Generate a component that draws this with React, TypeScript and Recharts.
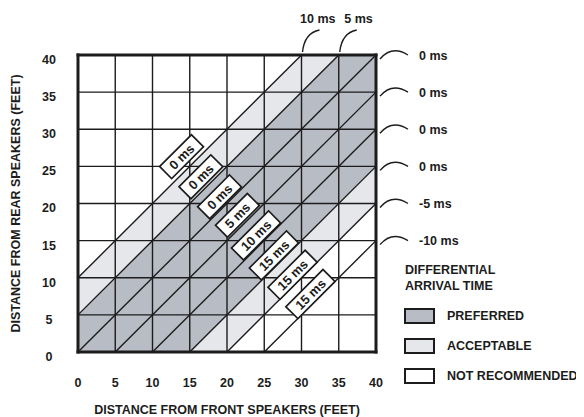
import {
  ComposedChart,
  Area,
  Scatter,
  XAxis,
  YAxis,
  ReferenceLine,
} from "recharts";

// axis grid, feet
const axisTicks = [0, 5, 10, 15, 20, 25, 30, 35, 40];

// shaded bands, sampled at the x where their edges bend
const bandX = [0, 15, 20, 30, 35, 40];
const preferredLow = [0, 0, 5, 15, 20, 25];
const preferredHigh = [5, 20, 25, 35, 40, 40];
const acceptableTopLow = [5, 20, 25, 35, 40, 40];
const acceptableTopHigh = [10, 25, 30, 40, 40, 40];
const acceptableBottomLow = [0, 0, 0, 10, 15, 20];
const acceptableBottomHigh = [0, 0, 5, 15, 20, 25];

// diagonals y = x + offset
const diagonalOffsets = [10, 5, 0, -5, -10, -15, -20, -25];

// boxed labels between the diagonals
const boxLabels = ["0 ms", "0 ms", "0 ms", "5 ms", "10 ms", "15 ms", "15 ms", "15 ms"];
const boxX = [13.9, 16.5, 19.0, 21.4, 23.9, 26.3, 28.8, 31.2];
const boxY = [26.3, 23.6, 20.9, 18.4, 15.7, 13.0, 10.4, 7.8];

// callouts at the right and top ends of the diagonals
const rightY = [40, 35, 30, 25, 20, 15];
const rightLabels = ["0 ms", "0 ms", "0 ms", "0 ms", "-5 ms", "-10 ms"];
const topX = [30, 35];
const topLabels = ["10 ms", "5 ms"];

const legendLabels = ["PREFERRED", "ACCEPTABLE", "NOT RECOMMENDED"];

const DARK = "#b8bcc4";
const LIGHT = "#e6e7ea";
const INK = "#1c1c1c";
const FONT = "Arial, 'Liberation Sans', Helvetica, sans-serif";

const bandRows = bandX.map((x, i) => ({
  x,
  preferred: [preferredLow[i], preferredHigh[i]],
  acceptableTop: [acceptableTopLow[i], acceptableTopHigh[i]],
  acceptableBottom: [acceptableBottomLow[i], acceptableBottomHigh[i]],
}));

const diagonals = diagonalOffsets.map((c) =>
  c >= 0
    ? [{ x: 0, y: c }, { x: 40 - c, y: 40 }]
    : [{ x: -c, y: 0 }, { x: 40, y: 40 + c }]
);

const boxData = boxLabels.map((text, i) => ({ x: boxX[i], y: boxY[i], text }));
const rightData = rightLabels.map((text, i) => ({ x: 40, y: rightY[i], text }));
const topData = topLabels.map((text, i) => ({ x: topX[i], y: 40, text }));

const textStyle = { fontFamily: FONT, fontWeight: 700, fontSize: 12.5, fill: INK };

function XTick({ x, y, payload }: any) {
  return (
    <text x={x} y={y} dy="0.71em" textAnchor="middle" style={textStyle}>
      {payload.value}
    </text>
  );
}

function YTick({ x, y, payload }: any) {
  return (
    <text x={x} y={y} dy="0.71em" textAnchor="middle" style={textStyle}>
      {payload.value}
    </text>
  );
}

function BoxLabel({ cx, cy, payload }: any) {
  const w = payload.text.length * 7.5 + 15;
  return (
    <g transform={`translate(${cx},${cy}) rotate(-45)`}>
      <rect x={-w / 2} y={-8.5} width={w} height={17} fill="#fff" stroke={INK} strokeWidth={1.7} />
      <text x={0} y={0} dy="0.36em" textAnchor="middle" style={{ ...textStyle, fontSize: 13 }}>
        {payload.text}
      </text>
    </g>
  );
}

function RightNote({ cx, cy, payload }: any) {
  return (
    <g>
      <path d={`M${cx + 4},${cy + 4} Q${cx + 16},${cy - 10} ${cx + 32},${cy}`} fill="none" stroke={INK} strokeWidth={1.4} />
      <text x={cx + 43} y={cy} dy="0.36em" style={textStyle}>
        {payload.text}
      </text>
    </g>
  );
}

function TopNote({ cx, cy, payload }: any) {
  return (
    <g>
      <path d={`M${cx + 1},${cy - 3} Q${cx + 3},${cy - 22} ${cx + 18},${cy - 25}`} fill="none" stroke={INK} strokeWidth={1.4} />
      <text x={cx + 34} y={cy - 37} dy="0.36em" textAnchor="end" style={textStyle}>
        {payload.text}
      </text>
    </g>
  );
}

const swatchFill = [DARK, LIGHT, "#fff"];

export default function App() {
  return (
    <div style={{ position: "relative", width: 576, height: 409 }}>
      <ComposedChart
        width={576}
        height={409}
        data={bandRows}
        margin={{ top: 47, right: 208, bottom: 35, left: 30 }}
      >
        <XAxis
          type="number"
          dataKey="x"
          domain={[0, 40]}
          ticks={axisTicks}
          interval={0}
          axisLine={false}
          tickLine={false}
          tickSize={0}
          tickMargin={26}
          height={30}
          tick={<XTick />}
          label={{
            content: ({ viewBox }: any) => (
              <text x={viewBox.x + viewBox.width / 2} y={401} dy="0.36em" textAnchor="middle" style={textStyle}>
                DISTANCE FROM FRONT SPEAKERS (FEET)
              </text>
            ),
          }}
        />
        <YAxis
          type="number"
          domain={[0, 40]}
          ticks={axisTicks}
          interval={0}
          axisLine={false}
          tickLine={false}
          tickSize={0}
          tickMargin={29}
          width={40}
          tick={<YTick />}
          label={{
            content: ({ viewBox }: any) => {
              const cy = viewBox.y + viewBox.height / 2;
              return (
                <text x={7} y={cy} dy="0.36em" textAnchor="middle" transform={`rotate(-90, 7, ${cy})`} style={textStyle}>
                  DISTANCE FROM REAR SPEAKERS (FEET)
                </text>
              );
            },
          }}
        />
        <Area type="linear" dataKey="acceptableTop" stroke="none" fill={LIGHT} fillOpacity={1} isAnimationActive={false} />
        <Area type="linear" dataKey="acceptableBottom" stroke="none" fill={LIGHT} fillOpacity={1} isAnimationActive={false} />
        <Area type="linear" dataKey="preferred" stroke="none" fill={DARK} fillOpacity={1} isAnimationActive={false} />
        {axisTicks.slice(1, -1).map((t) => (
          <ReferenceLine key={`v${t}`} x={t} stroke={INK} strokeWidth={1.4} />
        ))}
        {axisTicks.slice(1, -1).map((t) => (
          <ReferenceLine key={`h${t}`} y={t} stroke={INK} strokeWidth={1.4} />
        ))}
        {diagonals.map((seg, i) => (
          <ReferenceLine key={`d${i}`} segment={seg} stroke={INK} strokeWidth={1.4} />
        ))}
        {[0, 40].map((t) => (
          <ReferenceLine key={`bx${t}`} x={t} stroke={INK} strokeWidth={3} strokeLinecap="square" />
        ))}
        {[0, 40].map((t) => (
          <ReferenceLine key={`by${t}`} y={t} stroke={INK} strokeWidth={3} strokeLinecap="square" />
        ))}
        <Scatter data={boxData} dataKey="y" shape={BoxLabel} isAnimationActive={false} />
        <Scatter data={rightData} dataKey="y" shape={RightNote} isAnimationActive={false} />
        <Scatter data={topData} dataKey="y" shape={TopNote} isAnimationActive={false} />
      </ComposedChart>

      <div
        style={{
          position: "absolute",
          left: 397,
          top: 254,
          fontFamily: FONT,
          fontWeight: 700,
          fontSize: 12.5,
          color: INK,
          lineHeight: "16px",
          whiteSpace: "nowrap",
        }}
      >
        <div>DIFFERENTIAL</div>
        <div>ARRIVAL TIME</div>
        {legendLabels.map((label, i) => (
          <div
            key={label}
            style={{ position: "absolute", left: -1, top: 46 + i * 30, display: "flex", alignItems: "center" }}
          >
            <div
              style={{
                width: 27,
                height: 12,
                background: swatchFill[i],
                border: `2px solid ${INK}`,
              }}
            />
            <span style={{ marginLeft: 12 }}>{label}</span>
          </div>
        ))}
      </div>
    </div>
  );
}
